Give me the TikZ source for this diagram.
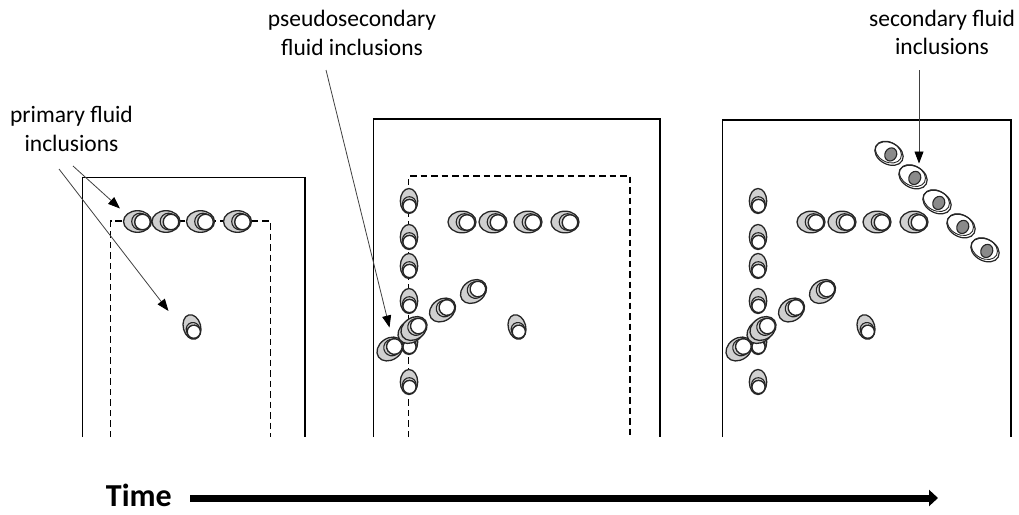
\documentclass[tikz,border=0pt]{standalone}
\usepackage{fontspec}
\setmainfont{Carlito}
\usetikzlibrary{arrows.meta}
\definecolor{incgray}{HTML}{D0D0D0}
\definecolor{incline}{HTML}{262626}
\definecolor{secgray}{HTML}{8A8A8A}
\definecolor{ptrline}{HTML}{404040}

\tikzset{
  % gas-bubble inclusion, bubble on the right
  pics/hincl/.style={code={
    \draw[fill=incgray, draw=incline, line width=1.3pt] (0,0) ellipse [x radius=14, y radius=10.8];
    \draw[incline, line width=1.1pt] (2.5,0) circle [radius=8.3];
    \draw[incline, fill=white, line width=1.4pt] (5,0.5) circle [radius=7.8];
  }},
  % upright inclusion, bubble at the bottom
  pics/vincl/.style={code={
    \draw[fill=incgray, draw=incline, line width=1.3pt] (0,0) ellipse [x radius=8.7, y radius=12.5];
    \draw[incline, line width=1.1pt] (0.3,2.5) circle [radius=6.8];
    \draw[incline, fill=white, line width=1.4pt] (0.5,5) circle [radius=6.6];
  }},
  % late inclusion: clear host with a dark core
  pics/sincl/.style={code={
    \draw[fill=white, draw=incline, line width=1.2pt] (0,0) ellipse [x radius=15, y radius=10.8];
    \draw[incline, line width=0.9pt] (-1.2,-1) ellipse [x radius=13.8, y radius=10];
    \draw[fill=secgray, draw=incline, line width=1.1pt] (2,0) ellipse [x radius=5.8, y radius=6.8];
  }},
  % inclusion set trapped along the healed fractures
  pics/healed/.style={code={
    \foreach \yy in {201,237,266,301,342,382}
      \pic at (409,\yy) {vincl};
    \foreach \xx in {462,493,528,565}
      \pic at (\xx,222) {hincl};
    \foreach \xx/\yy in {390/349, 411/331.5, 414/328.5, 442.5/310, 473.5/291.5}
      \pic[rotate=35] at (\xx,\yy) {hincl};
    \pic[rotate=15] at (517,327) {vincl};
  }},
}

\begin{document}
\begin{tikzpicture}[x=1pt,y=-1pt,
  crystal/.style={line width=1.6pt, black},
  growth/.style={line width=1.4pt, black, dash pattern=on 6.5pt off 4pt},
  caption/.style={font=\fontsize{23.5}{28.5}\selectfont, align=center, inner sep=0pt, text=black},
  ptr/.style={ptrline, line width=0.8pt, -{Triangle[length=12pt, width=9pt, color=black]}},
  timearrow/.style={black, line width=7pt, -{Triangle[length=9pt, width=16pt]}},
]
\useasboundingbox (0,0) rectangle (1019,514);

% crystal outlines and earlier growth surfaces
\draw[crystal] (82.5,437) -- (82.5,177.5) -- (305,177.5) -- (305,437);
\draw[growth] (110.5,437) -- (110.5,221) -- (270.5,221) -- (270.5,437);
\draw[crystal] (373.5,437) -- (373.5,119) -- (660,119) -- (660,437);
\draw[growth] (408.5,437) -- (408.5,176) -- (630,176) -- (630,437);
\draw[crystal] (722.5,437) -- (722.5,120) -- (1011,120) -- (1011,437);

% stage 1: primary inclusions
\foreach \xx in {137.5,166,200.5,237.5}
  \pic at (\xx,221.5) {hincl};
\pic[rotate=15] at (192,327) {vincl};

% stages 2 and 3
\pic at (0,0) {healed};
\pic at (349,0) {healed};

% stage 3: secondary trail
\foreach \xx/\yy in {889/153.5, 913/177, 937/202, 961/226, 985/250}
  \pic[rotate=-28] at (\xx,\yy) {sincl};

% labels
\node[caption] (lblprim) at (71.5,129) {primary fluid\\inclusions};
\node[caption] (lblpseudo) at (352,33) {pseudosecondary\\fluid inclusions};
\node[caption] (lblsec) at (942,32.5) {secondary fluid\\inclusions};
\node[font=\bfseries\fontsize{32}{38}\selectfont, inner sep=0pt, anchor=base east] (lbltime) at (172,506) {Time};

% pointer ends
\coordinate (primA) at (73,166);
\coordinate (primAt) at (120,208.5);
\coordinate (primB) at (59,169);
\coordinate (primBt) at (168.5,311);
\coordinate (pseudoS) at (326,70);
\coordinate (pseudoT) at (389.5,327.5);
\coordinate (secS) at (919,70);
\coordinate (secT) at (919,163.5);
\coordinate (timeS) at (190,498);
\coordinate (timeT) at (938,498);

\draw[ptr] (primA) -- (primAt);
\draw[ptr] (primB) -- (primBt);
\draw[ptr] (pseudoS) -- (pseudoT);
\draw[ptr] (secS) -- (secT);
\draw[timearrow] (timeS) -- (timeT);
\end{tikzpicture}
\end{document}
